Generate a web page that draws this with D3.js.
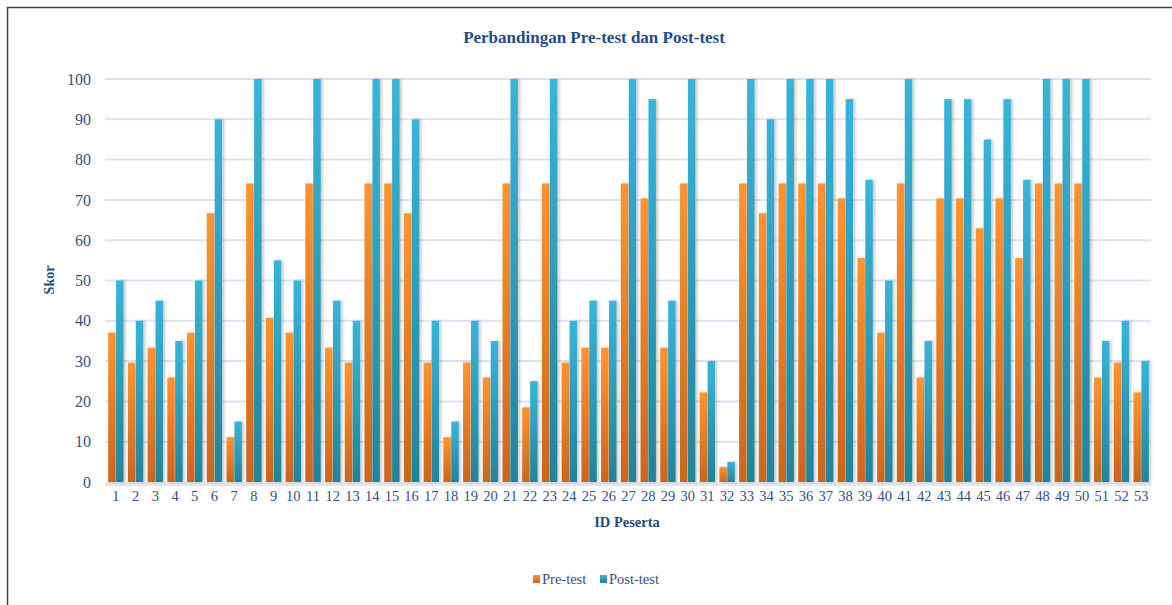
<!DOCTYPE html>
<html>
<head>
<meta charset="utf-8">
<script src="https://cdn.jsdelivr.net/npm/d3@7"></script>
<style>
  body { margin: 0; background: #fff; }
  svg { display: block; }
  text { font-family: "Liberation Serif", "DejaVu Serif", serif; }
</style>
</head>
<body>
<div class="chart"></div>
<script>
// participant ids and scores
var ids = d3.range(1, 54).map(String);
var preTest = [37.04, 29.63, 33.33, 25.93, 37.04, 66.67, 11.11, 74.07, 40.74, 37.04,
  74.07, 33.33, 29.63, 74.07, 74.07, 66.67, 29.63, 11.11, 29.63, 25.93,
  74.07, 18.52, 74.07, 29.63, 33.33, 33.33, 74.07, 70.37, 33.33, 74.07,
  22.22, 3.70, 74.07, 66.67, 74.07, 74.07, 74.07, 70.37, 55.56, 37.04,
  74.07, 25.93, 70.37, 70.37, 62.96, 70.37, 55.56, 74.07, 74.07, 74.07,
  25.93, 29.63, 22.22];
var postTest = [50, 40, 45, 35, 50, 90, 15, 100, 55, 50,
  100, 45, 40, 100, 100, 90, 40, 15, 40, 35,
  100, 25, 100, 40, 45, 45, 100, 95, 45, 100,
  30, 5, 100, 90, 100, 100, 100, 95, 75, 50,
  100, 35, 95, 95, 85, 95, 75, 100, 100, 100,
  35, 40, 30];
var seriesNames = ['Pre-test', 'Post-test'];
var yTicks = [0, 10, 20, 30, 40, 50, 60, 70, 80, 90, 100];

var width = 1172, height = 605;
var textColor = '#35507e';

var svg = d3.select('.chart').append('svg').attr('width', width).attr('height', height);

var defs = svg.append('defs');
function grad(id, top, bottom) {
  var g = defs.append('linearGradient').attr('id', id)
    .attr('x1', 0).attr('y1', 0).attr('x2', 0).attr('y2', 1);
  g.append('stop').attr('offset', '0%').attr('stop-color', top);
  g.append('stop').attr('offset', '100%').attr('stop-color', bottom);
}
grad('gPre', '#ff942e', '#c9661e');
grad('gPost', '#37b5da', '#23849a');
var shadow = defs.append('filter').attr('id', 'shadow')
  .attr('x', '-50%').attr('y', '-5%').attr('width', '250%').attr('height', '115%');
shadow.append('feDropShadow').attr('dx', 2).attr('dy', 0).attr('stdDeviation', 1.6)
  .attr('flood-color', '#000').attr('flood-opacity', 0.22);

// outer border (left + top)
svg.append('path').attr('d', 'M7.5,605 L7.5,7.5 L1172,7.5')
  .attr('fill', 'none').attr('stroke', '#444').attr('stroke-width', 1.5);

var x = d3.scaleBand().domain(ids).range([106, 1151]).paddingInner(0.22).paddingOuter(0.11);
var xSub = d3.scaleBand().domain(seriesNames).range([0, x.bandwidth()]).paddingInner(0.06);
var y = d3.scaleLinear().domain([0, 100]).range([482, 79]);

// gridlines
svg.append('g').selectAll('line').data(yTicks.filter(d => d > 0)).enter()
  .append('line')
  .attr('x1', 105).attr('x2', 1151)
  .attr('y1', d => y(d)).attr('y2', d => y(d))
  .attr('stroke', '#d9e4f2').attr('stroke-width', 2);

// floor
svg.append('rect').attr('x', 105).attr('y', y(0)).attr('width', 1046).attr('height', 4)
  .attr('fill', '#e2e6ec');

// bars
var rows = ids.map((id, i) => ({id: id, values: [
  {key: 'Pre-test', v: preTest[i]}, {key: 'Post-test', v: postTest[i]}]}));

var groups = svg.append('g').selectAll('g').data(rows).enter()
  .append('g').attr('transform', d => `translate(${x(d.id)},0)`);
groups.selectAll('rect').data(d => d.values).enter()
  .append('rect')
  .attr('x', d => xSub(d.key))
  .attr('y', d => y(d.v))
  .attr('width', xSub.bandwidth())
  .attr('height', d => y(0) - y(d.v))
  .attr('fill', d => d.key === 'Pre-test' ? 'url(#gPre)' : 'url(#gPost)')
  .attr('filter', 'url(#shadow)');

// y axis labels
var yAxis = svg.append('g').attr('transform', 'translate(91,0)')
  .call(d3.axisLeft(y).tickValues(yTicks).tickSize(0).tickPadding(0));
yAxis.select('.domain').remove();
yAxis.selectAll('text').attr('fill', textColor).style('font-size', '16px')
  .style('font-family', '"Liberation Serif", serif');

// x axis labels
var xAxis = svg.append('g').attr('transform', 'translate(0,491)')
  .call(d3.axisBottom(x).tickSize(0).tickPadding(0));
xAxis.select('.domain').remove();
xAxis.selectAll('text').attr('fill', textColor).style('font-size', '14.5px')
  .style('font-family', '"Liberation Serif", serif');

// titles
svg.append('text').attr('x', 594).attr('y', 43).attr('text-anchor', 'middle')
  .attr('fill', '#224c82').style('font-size', '17px').style('font-weight', 'bold')
  .text('Perbandingan Pre-test dan Post-test');

svg.append('text').attr('transform', 'translate(54,280) rotate(-90)')
  .attr('text-anchor', 'middle').attr('fill', '#224c82')
  .style('font-size', '14px').style('font-weight', 'bold').text('Skor');

svg.append('text').attr('x', 627).attr('y', 527).attr('text-anchor', 'middle')
  .attr('fill', '#224c82').style('font-size', '14.5px').style('font-weight', 'bold')
  .text('ID Peserta');

// legend
var legend = svg.append('g').selectAll('g').data(seriesNames).enter()
  .append('g').attr('transform', (d, i) => `translate(${i === 0 ? 533 : 600},575)`);
legend.append('rect').attr('width', 7).attr('height', 8)
  .attr('fill', d => d === 'Pre-test' ? 'url(#gPre)' : 'url(#gPost)');
legend.append('text').attr('x', 9).attr('y', 8.5).attr('fill', textColor)
  .style('font-size', '14.5px').text(d => d);
</script>
</body>
</html>
